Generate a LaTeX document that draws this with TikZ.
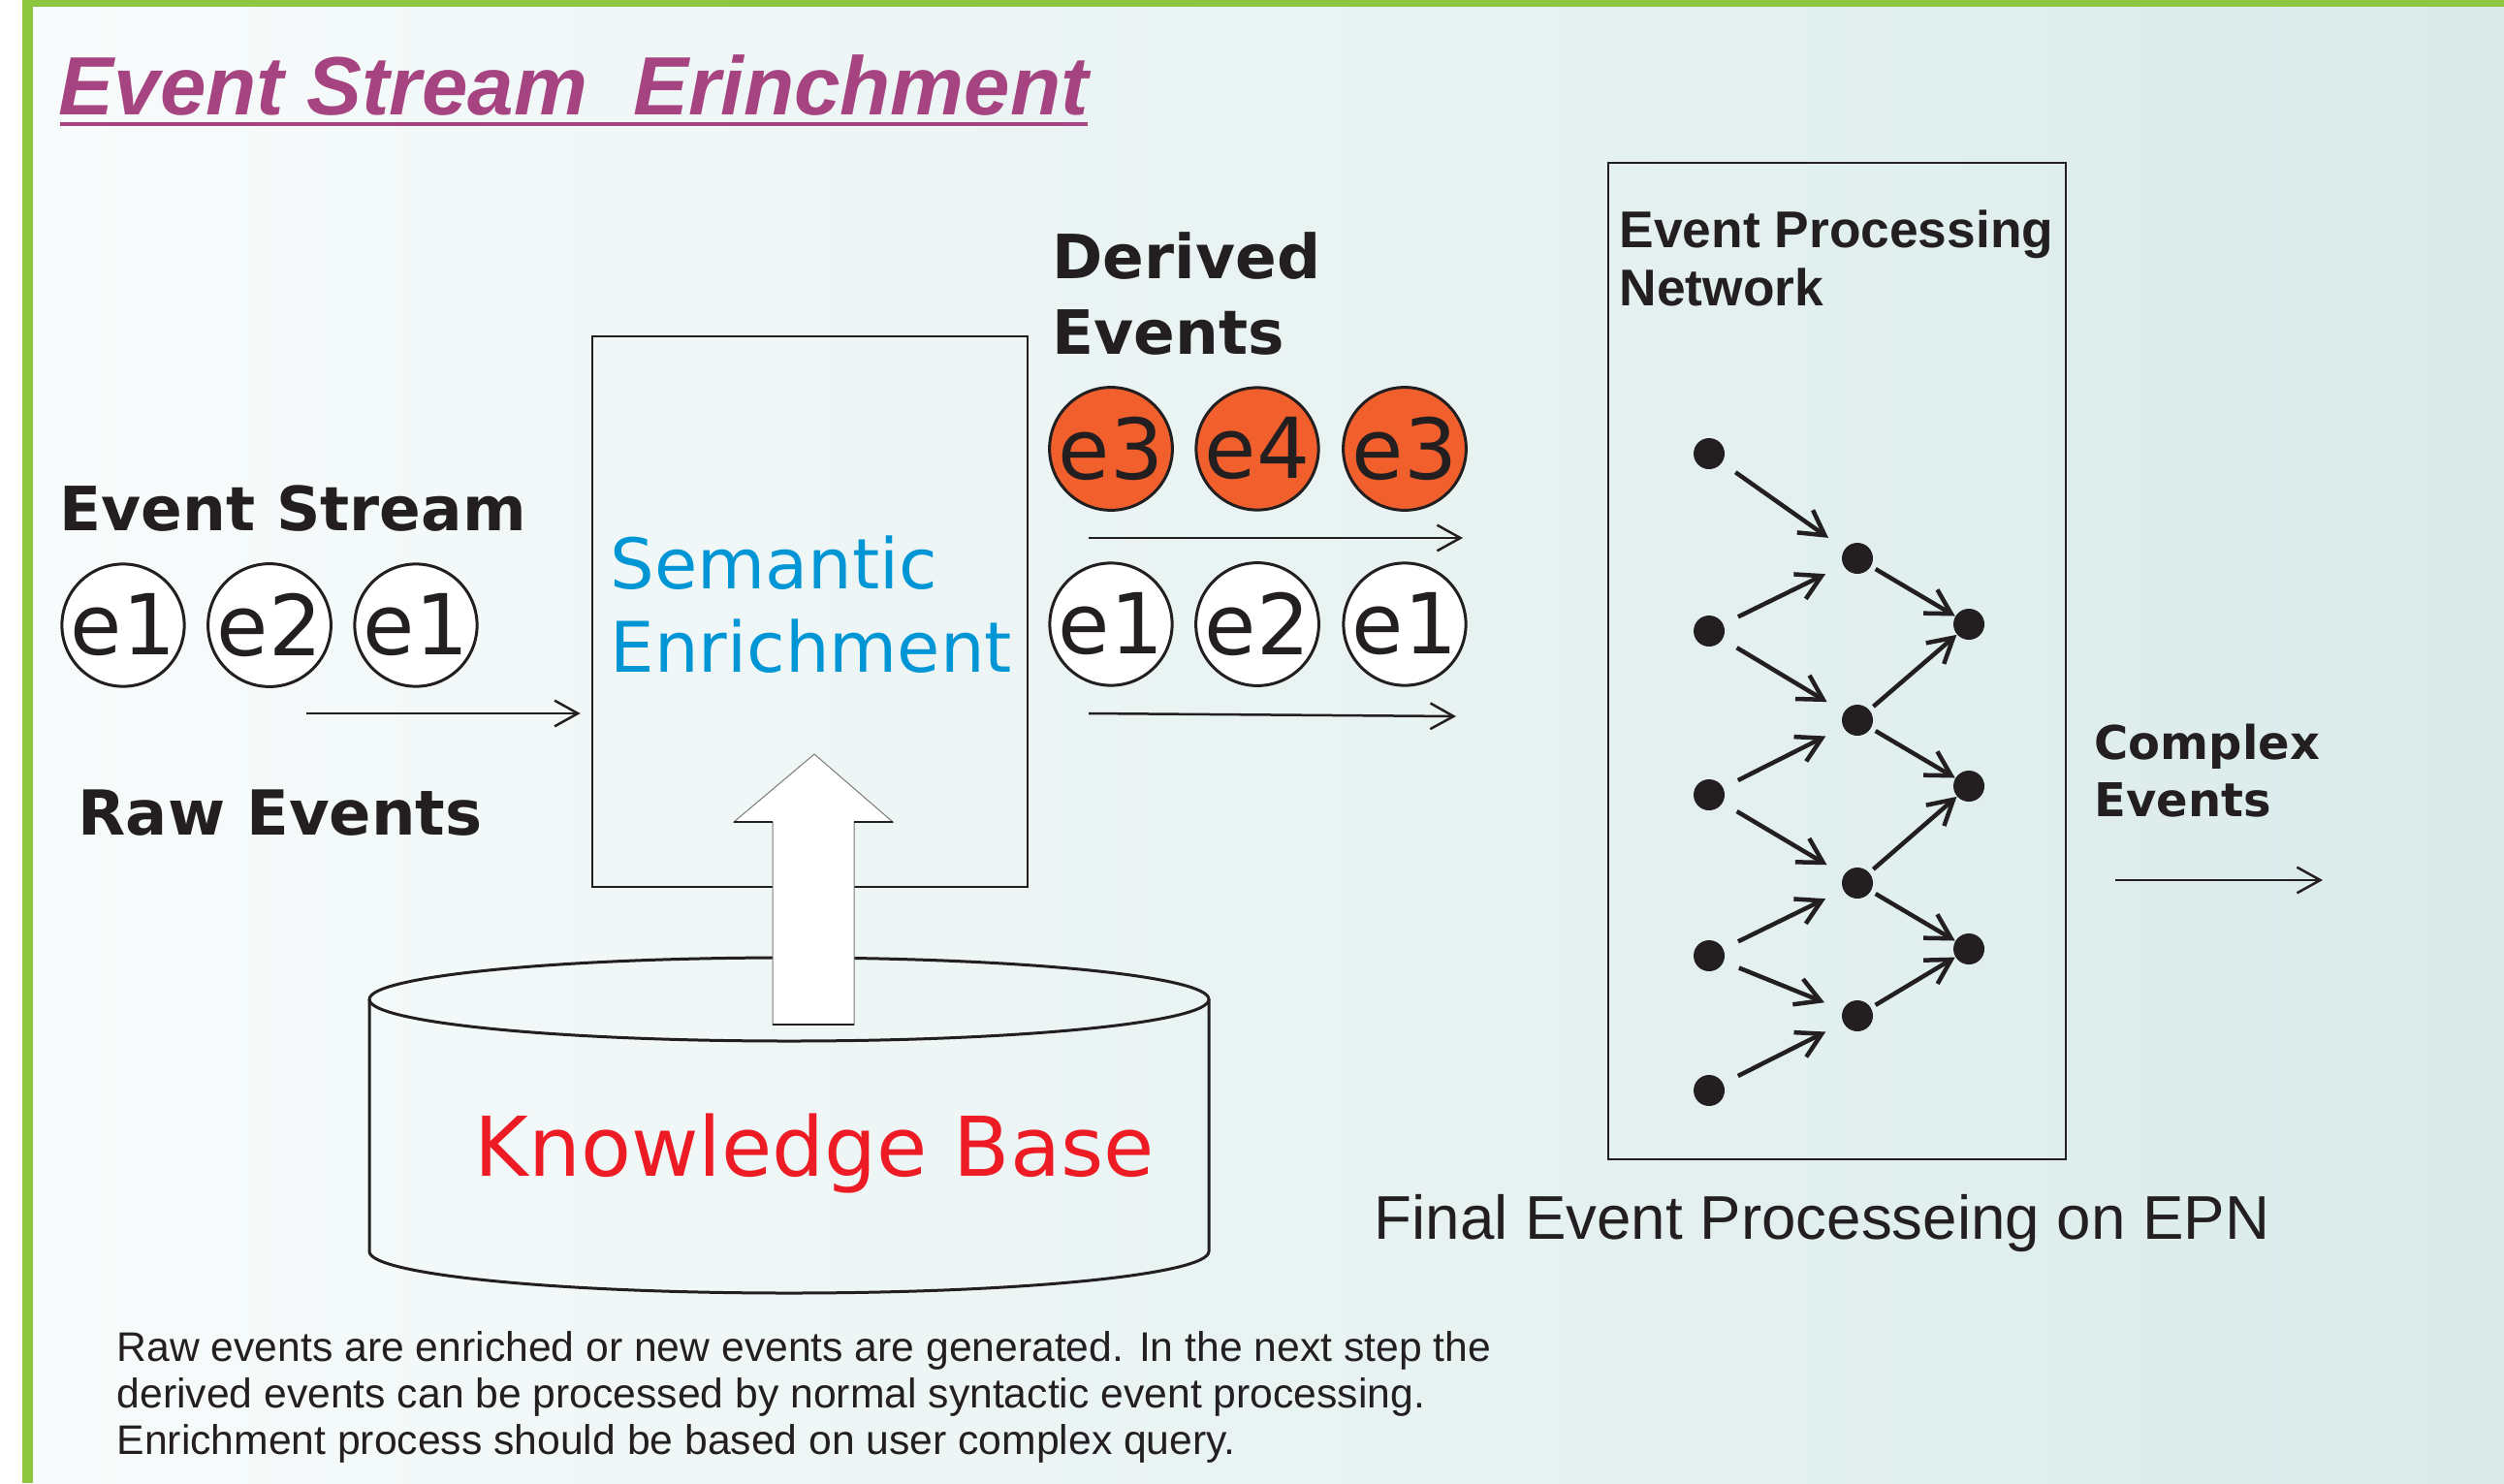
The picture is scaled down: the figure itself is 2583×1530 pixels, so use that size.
\documentclass[tikz,border=0pt]{standalone}
\usepackage{fontspec}
\setmainfont{Liberation Sans}
\newfontfamily\djv{DejaVu Sans}
\newfontfamily\lib{Liberation Sans}
\usetikzlibrary{arrows.meta}

\definecolor{framegreen}{RGB}{141,198,63}
\definecolor{titlepurple}{RGB}{166,68,130}
\definecolor{bgleft}{RGB}{248,251,251}
\definecolor{bgright}{RGB}{218,235,234}
\definecolor{ink}{RGB}{35,31,32}
\definecolor{semblue}{RGB}{0,150,214}
\definecolor{kbred}{RGB}{237,28,36}
\definecolor{evorange}{RGB}{241,95,45}

% stacked lines whose baseline is the first line
\newcommand{\stack}[1]{\begin{tabular}[t]{@{}l@{}}#1\end{tabular}}
\newcommand{\fs}[2]{\fontsize{#1}{#2}\selectfont}

\begin{document}
\begin{tikzpicture}[x=0.3pt,y=-0.3pt,
  label/.style={anchor=base west, inner sep=0pt, text=ink},
  evt/.style={circle, draw=ink, line width=0.9pt, minimum size=36.6pt,
    inner sep=0pt, fill=white, text=ink, font=\djv\fs{26}{30}},
  derived/.style={evt, fill=evorange},
  dot/.style={circle, fill=ink, minimum size=9.6pt, inner sep=0pt},
  net/.style={draw=ink, line width=1.35pt, -{Straight Barb[length=7.5pt,width=8.5pt]}},
  firstlayer/.style={net, shorten <=5pt, shorten >=6pt},
  secondlayer/.style={net, shorten <=1.5pt, shorten >=0pt},
  flow/.style={draw=ink, line width=0.75pt, -{Straight Barb[length=7.2pt,width=8pt]}},
  frame/.style={draw=ink, line width=0.8pt, inner sep=0pt}
]
\useasboundingbox (0,0) rectangle (2583,1530);

% page background and green frame
\fill[white] (0,0) rectangle (2583,1530);
\shade[left color=bgleft, right color=bgright] (34,7) rectangle (2583,1530);
\fill[framegreen] (23,0) rectangle (34,1530);
\fill[framegreen] (23,0) rectangle (2583,7);

% title
\node[anchor=base west, inner sep=0pt, text=titlepurple,
  font=\lib\bfseries\itshape\fs{25.6}{30}] (title) at (60,118)
  {Event Stream\ \ Erinchment};
\draw[titlepurple, line width=1.35pt] (62,128) -- (1122,128);

% raw event stream
\node[label, font=\djv\bfseries\fs{18.9}{23.4}] (streamlabel) at (61,547) {Event Stream};
\node[evt] (r1) at (127,645) {e1};
\node[evt] (r2) at (278,645) {e2};
\node[evt] (r3) at (429,645) {e1};
\node[label, font=\djv\bfseries\fs{19.2}{23.4}] (rawlabel) at (80,861) {Raw Events};

% enrichment box
\node[frame, minimum width=134.7pt, minimum height=170.4pt] (enrich) at (835.5,631) {};
\node[label, text=semblue, font=\djv\fs{21.6}{25.8}] (semtext) at (629,607)
  {\stack{Semantic\\Enrichment}};

\coordinate (rawstart) at (316,736);
\draw[flow, shorten >=3.3pt] (rawstart) -- (rawstart -| enrich.west);

% knowledge base cylinder
\draw[ink, line width=0.9pt] (814,1031) ellipse [x radius=129.9pt, y radius=12.9pt];
\draw[ink, line width=0.9pt] (381,1031) -- (381,1291)
  arc [start angle=180, end angle=360, x radius=129.9pt, y radius=12.9pt]
  -- (1247,1031);
\node[label, text=kbred, font=\djv\fs{25.5}{30}] (kbtext) at (489,1213) {Knowledge Base};

% block arrow from the knowledge base into the enrichment box
\filldraw[fill=white, draw=ink!60, line width=0.3pt]
  (797,1057) -- (797,848) -- (757,848) -- (840,778) -- (921,848)
  -- (881,848) -- (881,1057) -- cycle;
\draw[ink, line width=0.8pt] (757,848) -- (797,848) (881,848) -- (921,848)
  (797,1057) -- (881,1057);

% derived events
\node[label, font=\djv\bfseries\fs{18.9}{23.4}] (derivedlabel) at (1085,287)
  {\stack{Derived\\Events}};
\node[derived] (d1) at (1146,463) {e3};
\node[derived] (d2) at (1297,463) {e4};
\node[derived] (d3) at (1449,463) {e3};
\coordinate (dstartA) at (1123,555);
\coordinate (dendA) at (1509,555);
\draw[flow] (dstartA) -- (dendA);
\node[evt] (w1) at (1146,644) {e1};
\node[evt] (w2) at (1297,644) {e2};
\node[evt] (w3) at (1449,644) {e1};
\coordinate (dstartB) at (1123,736);
\coordinate (dendB) at (1502,739);
\draw[flow] (dstartB) -- (dendB);

% event processing network
\node[frame, minimum width=141.6pt, minimum height=308.4pt] (epn) at (1895,682) {};
\node[label, font=\lib\bfseries\fs{16}{18}] (epnlabel) at (1670,255)
  {\stack{Event Processing\\Network}};

\node[dot] (a1) at (1763,468) {};
\node[dot] (a2) at (1763,651) {};
\node[dot] (a3) at (1763,820) {};
\node[dot] (a4) at (1763,986) {};
\node[dot] (a5) at (1763,1125) {};
\node[dot] (b1) at (1916,576) {};
\node[dot] (b2) at (1916,743) {};
\node[dot] (b3) at (1916,911) {};
\node[dot] (b4) at (1916,1048) {};
\node[dot] (c1) at (2031,644) {};
\node[dot] (c2) at (2031,811) {};
\node[dot] (c3) at (2031,979) {};

\draw[firstlayer] (a1) -- (b1);
\draw[firstlayer] (a2) -- (b1);
\draw[firstlayer] (a2) -- (b2);
\draw[firstlayer] (a3) -- (b2);
\draw[firstlayer] (a3) -- (b3);
\draw[firstlayer] (a4) -- (b3);
\draw[firstlayer] (a4) -- (b4);
\draw[firstlayer] (a5) -- (b4);
\draw[secondlayer] (b1) -- (c1);
\draw[secondlayer] (b2) -- (c1);
\draw[secondlayer] (b2) -- (c2);
\draw[secondlayer] (b3) -- (c2);
\draw[secondlayer] (b3) -- (c3);
\draw[secondlayer] (b4) -- (c3);

% output of the network
\node[label, font=\djv\bfseries\fs{14.4}{17.7}] (complexlabel) at (2160,783)
  {\stack{Complex\\Events}};
\coordinate (cstart) at (2182,908);
\coordinate (cend) at (2396,908);
\draw[flow] (cstart) -- (cend);

\node[label, font=\lib\fs{19.1}{22}] (final) at (1417,1278) {Final Event Processeing on EPN};

% explanatory note
\node[label, font=\lib\fs{12.8}{14.4}] (note) at (120,1404)
  {\stack{Raw events are enriched or new events are generated. In the next step the\\
  derived events can be processed by normal syntactic event processing.\\
  Enrichment process should be based on user complex query.}};
\end{tikzpicture}
\end{document}
